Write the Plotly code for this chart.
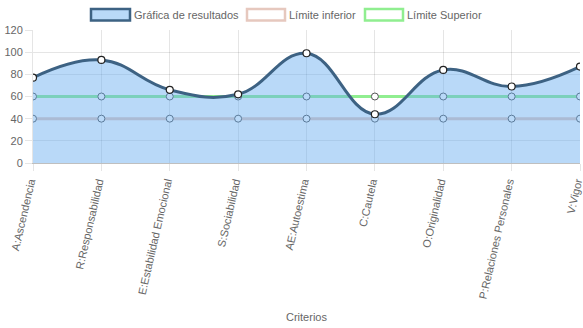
import plotly.graph_objects as go

# Criteria on the x axis and the scores for each one
criterios = [
    "A:Ascendencia", "R:Responsabilidad", "E:Estabilidad Emocional",
    "S:Sociabilidad", "AE:Autoestima", "C:Cautela", "O:Originalidad",
    "P:Relaciones Personales", "V:Vigor",
]
resultados = [77, 93, 66, 62, 99, 44, 84, 69, 87]
limite_inferior = [40, 40, 40, 40, 40, 40, 40, 40, 40]
limite_superior = [60, 60, 60, 60, 60, 60, 60, 60, 60]
y_ticks = [0, 20, 40, 60, 80, 100, 120]

W, H = 583, 328
M_L, M_R, M_T, M_B = 33, 3, 30, 165
PW, PH = W - M_L - M_R, H - M_T - M_B

RES_LINE = "#3d6283"
RES_FILL = "rgba(100,170,240,0.45)"
INF_LINE = "rgb(230,200,190)"
SUP_LINE = "#90ee90"
GRID = "rgba(0,0,0,0.1)"
TXT = "#666666"
FONT = "Liberation Sans, Arial, Helvetica, sans-serif"
FS = 11


def px_x(px):
    return (px - M_L) / PW


def px_y(py):
    return (M_T + PH - py) / PH


fig = go.Figure()

# limit lines go first so the results fill sits over them
for vals, col in [(limite_inferior, INF_LINE), (limite_superior, SUP_LINE)]:
    fig.add_trace(go.Scatter(
        x=criterios, y=vals, mode="lines+markers",
        line=dict(color=col, width=3),
        marker=dict(size=7, color="white", line=dict(color="#555555", width=1)),
        showlegend=False, hoverinfo="skip",
    ))

fig.add_trace(go.Scatter(
    x=criterios, y=resultados, mode="lines+markers",
    line=dict(color=RES_LINE, width=3, shape="spline", smoothing=1.2),
    fill="tozeroy", fillcolor=RES_FILL,
    marker=dict(size=7, color="white", line=dict(color="#222222", width=1.2)),
    showlegend=False,
))

# legend drawn as boxes with labels across the top
legend_items = [
    (91, 130, RES_FILL, RES_LINE, "Gráfica de resultados"),
    (247, 285, "white", INF_LINE, "Límite inferior"),
    (365, 403, "white", SUP_LINE, "Límite Superior"),
]
shapes, annotations = [], []
for x0, x1, fillc, linec, label in legend_items:
    shapes.append(dict(
        type="rect", xref="paper", yref="paper",
        x0=px_x(x0), x1=px_x(x1), y0=px_y(20.5), y1=px_y(9),
        fillcolor=fillc, line=dict(color=linec, width=2.5), layer="above",
    ))
    annotations.append(dict(
        xref="paper", yref="paper", x=px_x(x1 + 2), y=px_y(15),
        xanchor="left", yanchor="middle", showarrow=False,
        text=label, font=dict(family=FONT, size=FS, color=TXT),
    ))

annotations.append(dict(
    xref="paper", yref="paper", x=px_x(306.5), y=px_y(317),
    xanchor="center", yanchor="middle", showarrow=False,
    text="Criterios", font=dict(family=FONT, size=FS, color=TXT),
))

fig.update_layout(
    width=W, height=H,
    margin=dict(l=M_L, r=M_R, t=M_T, b=M_B, autoexpand=False),
    paper_bgcolor="white", plot_bgcolor="white",
    font=dict(family=FONT, size=FS, color=TXT),
    showlegend=False,
    shapes=shapes, annotations=annotations,
    xaxis=dict(
        type="category", range=[0, len(criterios) - 1],
        showgrid=True, gridcolor=GRID, gridwidth=1,
        ticks="outside", ticklen=7, tickcolor=GRID,
        tickangle=-77, tickfont=dict(size=FS, color=TXT),
        ticklabelshift=-3,
        showline=True, linecolor="rgba(0,0,0,0.25)", linewidth=1,
        zeroline=False, automargin=False,
    ),
    yaxis=dict(
        range=[0, 120], tickvals=y_ticks,
        showgrid=True, gridcolor=GRID, gridwidth=1,
        ticks="outside", ticklen=7, tickcolor=GRID,
        tickfont=dict(size=FS, color=TXT),
        showline=True, linecolor=GRID, linewidth=1,
        zeroline=False, automargin=False,
    ),
)

fig.write_html("out.html")
